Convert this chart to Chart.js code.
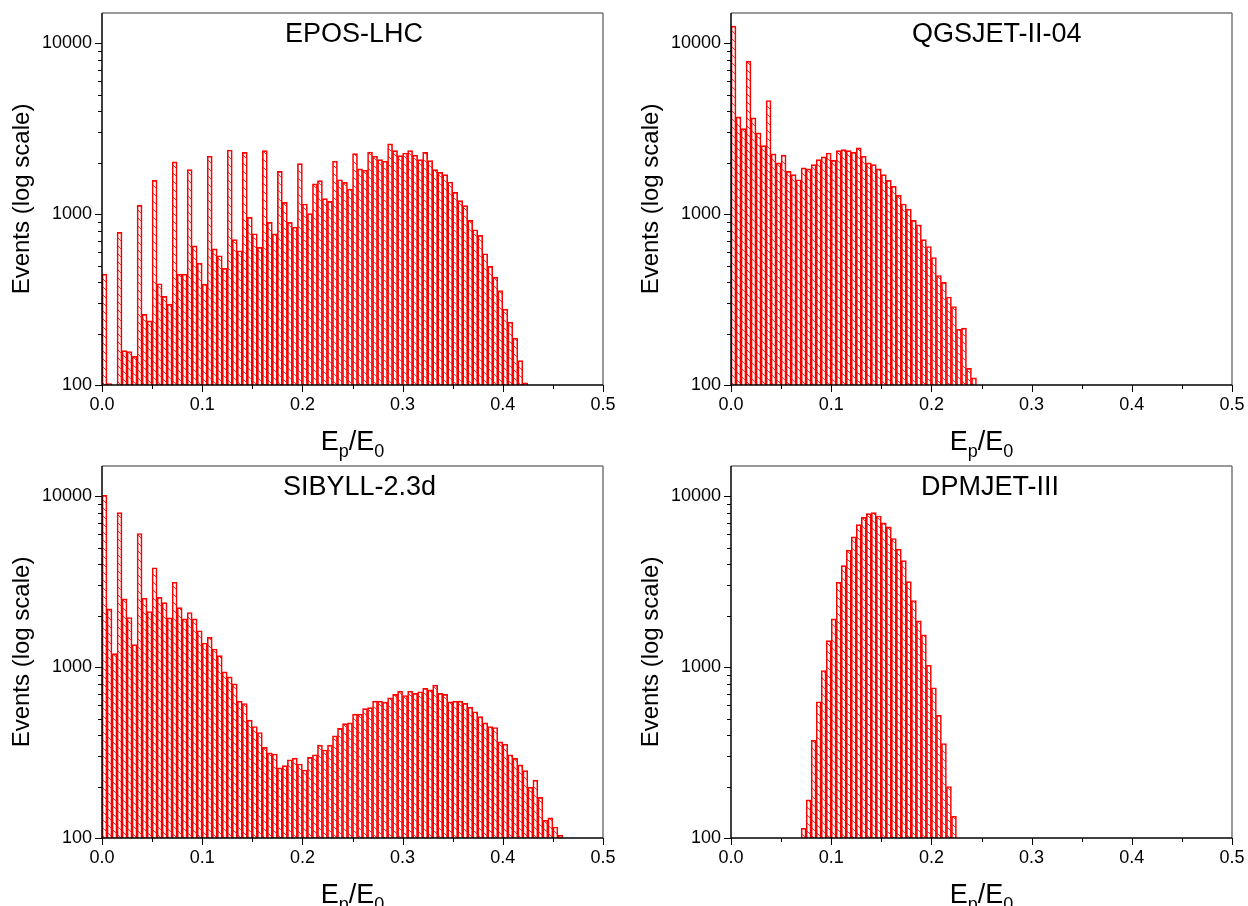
<!DOCTYPE html>
<html>
<head>
<meta charset="utf-8">
<title>Ep/E0 distributions</title>
<script src="https://cdn.jsdelivr.net/npm/chart.js@4.4.0/dist/chart.umd.min.js"></script>
<style>
  body { margin: 0; background: #fff; width: 1248px; height: 906px; overflow: hidden; position: relative; }
  canvas { position: absolute; }
</style>
</head>
<body>
<canvas id="c-epos" width="620" height="470" style="left:0;top:0"></canvas>
<canvas id="c-qgs" width="620" height="470" style="left:629px;top:0"></canvas>
<canvas id="c-sib" width="620" height="470" style="left:0;top:453px"></canvas>
<canvas id="c-dpm" width="620" height="470" style="left:629px;top:453px"></canvas>
<script>
// histogram bins of Ep/E0, width 0.005, starting at 0
const binWidth = 0.005;

const eposLhc = [445, 102, null, 782, 159, 157, 147, 1125, 259, 237,
  1575, 391, 330, 297, 2018, 445, 445, 1820, 652, 516,
  389, 2178, 626, 570, 481, 2371, 708, 610, 2296, 960,
  767, 638, 2350, 893, 765, 1778, 1170, 893, 839, 1972,
  1145, 1005, 1500, 1568, 1230, 1187, 2037, 1588, 1533, 1401,
  2258, 1837, 1803, 2306, 2178, 2080, 2037, 2572, 2350, 2198,
  2275, 2350, 2210, 2080, 2296, 2053, 1820, 1754, 1700, 1540,
  1340, 1197, 1119, 918, 809, 750, 586, 494, 428, 357,
  278, 233, 188, 139, 103];

const qgsjet = [12580, 3700, 3162, 7850, 3650, 2985, 2513, 4613, 2248, 1991,
  2210, 1778, 1700, 1588, 1862, 1837, 1946, 2080, 2158, 2275,
  2062, 2350, 2383, 2350, 2300, 2440, 2178, 1991, 1946, 1837,
  1700, 1575, 1452, 1285, 1145, 1069, 918, 866, 708, 646,
  557, 437, 398, 327, 288, 212, 215, 125, 110];

const sibyll = [10100, 2188, 1198, 8000, 2506, 1950, 1352, 6040, 2530, 2113,
  3810, 2558, 2383, 1940, 3133, 2228, 1915, 2085, 1915, 1630,
  1383, 1493, 1276, 1167, 937, 877, 798, 632, 612, 489,
  449, 414, 339, 315, 310, 257, 265, 287, 293, 271,
  250, 296, 307, 349, 327, 349, 396, 438, 467, 471,
  530, 530, 571, 579, 632, 632, 624, 661, 692, 723,
  682, 723, 702, 717, 750, 736, 784, 702, 692, 627,
  632, 632, 613, 583, 548, 513, 471, 449, 443, 365,
  354, 307, 292, 268, 248, 198, 218, 173, 127, 131,
  116, 104];

const dpmjet = [null, null, null, null, null, null, null, null, null, null,
  null, null, null, null, 114, 167, 373, 627, 955, 1426,
  1915, 3133, 3917, 4830, 5770, 6807, 7512, 7890, 8000, 7650,
  6970, 6600, 5650, 4900, 4190, 3160, 2450, 1865, 1545, 1025,
  757, 522, 357, 200, 134];

const yMajor = [100, 1000, 10000];
const yMinor = [200, 300, 400, 500, 600, 700, 800, 900,
  2000, 3000, 4000, 5000, 6000, 7000, 8000, 9000];
const xMajor = [0, 0.1, 0.2, 0.3, 0.4, 0.5];
const xMinor = [0.05, 0.15, 0.25, 0.35, 0.45];

const FONT = '"Liberation Sans", Arial, sans-serif';

function hatch() {
  const c = document.createElement('canvas');
  c.width = 8; c.height = 8;
  const g = c.getContext('2d');
  g.strokeStyle = 'rgba(255,0,0,0.8)';
  g.lineWidth = 1;
  g.beginPath();
  g.moveTo(-1, -1); g.lineTo(9, 9);
  g.moveTo(-1, 7); g.lineTo(1, 9);
  g.moveTo(7, -1); g.lineTo(9, 1);
  g.stroke();
  return g.createPattern(c, 'repeat');
}

// frame, tick marks, titles
const frame = {
  id: 'frame',
  afterDraw(chart, args, opts) {
    const { ctx, chartArea: a, scales: { x, y } } = chart;
    ctx.save();
    const line = (x1, y1, x2, y2) => { ctx.beginPath(); ctx.moveTo(x1, y1); ctx.lineTo(x2, y2); ctx.stroke(); };

    ctx.lineWidth = 1.5;
    ctx.strokeStyle = '#777';
    line(a.left, a.top, a.right, a.top);
    line(a.right, a.top, a.right, a.bottom);
    ctx.strokeStyle = '#000';
    line(a.left, a.top, a.left, a.bottom);
    line(a.left, a.bottom, a.right, a.bottom);

    ctx.lineWidth = 1;
    yMajor.forEach(v => { const p = Math.round(y.getPixelForValue(v)) + 0.5; line(a.left - 7, p, a.left, p); });
    yMinor.forEach(v => { const p = Math.round(y.getPixelForValue(v)) + 0.5; line(a.left - 4, p, a.left, p); });
    xMajor.forEach(v => { const p = Math.round(x.getPixelForValue(v)) + 0.5; line(p, a.bottom, p, a.bottom + 7); });
    xMinor.forEach(v => { const p = Math.round(x.getPixelForValue(v)) + 0.5; line(p, a.bottom, p, a.bottom + 4); });

    ctx.fillStyle = '#000';
    ctx.textBaseline = 'alphabetic';
    ctx.textAlign = 'left';
    ctx.font = '27px ' + FONT;
    ctx.fillText(opts.title, a.left + opts.titleX, a.top + 28.5);

    // x axis title E_p/E_0
    const parts = [['E', 27, 0], ['p', 18, 7], ['/E', 27, 0], ['0', 18, 7]];
    let w = 0;
    parts.forEach(p => { ctx.font = p[1] + 'px ' + FONT; w += ctx.measureText(p[0]).width; });
    let px = (a.left + a.right) / 2 - w / 2;
    parts.forEach(p => {
      ctx.font = p[1] + 'px ' + FONT;
      ctx.fillText(p[0], px, a.bottom + 65 + p[2]);
      px += ctx.measureText(p[0]).width;
    });

    ctx.translate(a.left - 80, (a.top + a.bottom) / 2);
    ctx.rotate(-Math.PI / 2);
    ctx.textAlign = 'center';
    ctx.textBaseline = 'middle';
    ctx.font = '24px ' + FONT;
    ctx.fillText('Events (log scale)', 0, 0);
    ctx.restore();
  }
};

function histogram(id, title, titleX, counts) {
  return new Chart(document.getElementById(id), {
    type: 'bar',
    data: {
      datasets: [{
        data: counts.map((v, i) => ({ x: (i + 0.5) * binWidth, y: v })),
        backgroundColor: hatch(),
        borderColor: '#ff0000',
        borderWidth: 1,
        barPercentage: 1,
        categoryPercentage: 1
      }]
    },
    options: {
      responsive: false,
      devicePixelRatio: 1,
      animation: false,
      layout: { padding: { left: 0, right: 17, top: 13, bottom: 0 } },
      plugins: {
        legend: { display: false },
        tooltip: { enabled: false },
        frame: { title, titleX }
      },
      scales: {
        x: {
          type: 'linear',
          min: 0,
          max: 0.5,
          offset: false,
          grid: { display: false, drawTicks: false, offset: false },
          border: { display: false },
          afterFit: s => { s.height = 85; s.paddingLeft = 0; s.paddingRight = 0; },
          afterBuildTicks: s => { s.ticks = xMajor.map(v => ({ value: v })); },
          ticks: {
            autoSkip: false,
            maxRotation: 0,
            padding: 9,
            color: '#000',
            font: { family: FONT, size: 18 },
            callback: v => v.toFixed(1)
          }
        },
        y: {
          type: 'logarithmic',
          min: 100,
          max: 15000,
          grid: { display: false, drawTicks: false },
          border: { display: false },
          afterFit: s => { s.width = 102; s.paddingTop = 0; s.paddingBottom = 0; },
          afterBuildTicks: s => { s.ticks = yMajor.map(v => ({ value: v })); },
          ticks: {
            autoSkip: false,
            padding: 10,
            color: '#000',
            font: { family: FONT, size: 18 },
            callback: v => String(v)
          }
        }
      }
    },
    plugins: [frame]
  });
}

histogram('c-epos', 'EPOS-LHC', 183, eposLhc);
histogram('c-qgs', 'QGSJET-II-04', 181, qgsjet);
histogram('c-sib', 'SIBYLL-2.3d', 181, sibyll);
histogram('c-dpm', 'DPMJET-III', 190, dpmjet);
</script>
</body>
</html>
